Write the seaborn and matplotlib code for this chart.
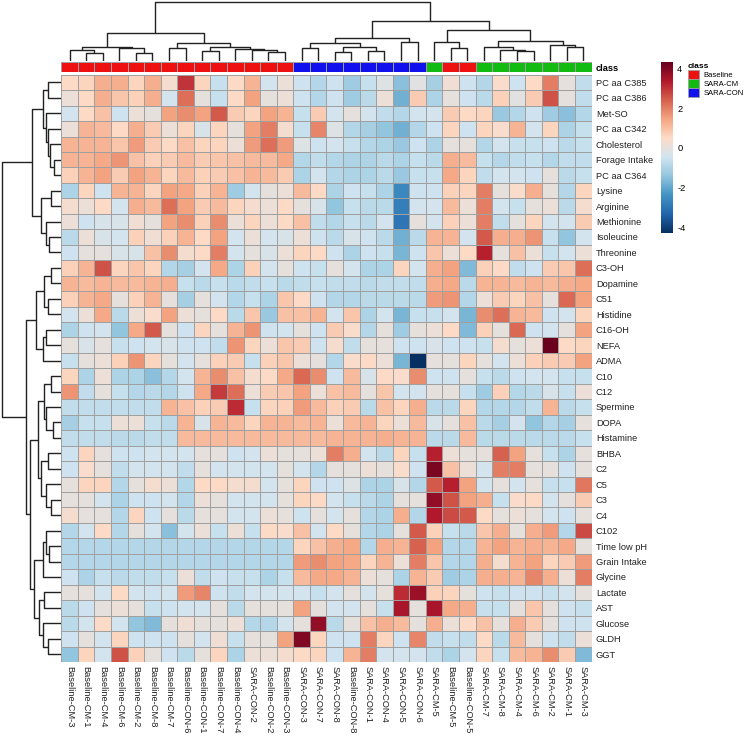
import numpy as np
import pandas as pd
import matplotlib
matplotlib.use('Agg')
import matplotlib.pyplot as plt
import seaborn as sns
from matplotlib.colors import LinearSegmentedColormap
from matplotlib.patches import Patch

metabolites = ['PC aa C385', 'PC aa C386', 'Met-SO', 'PC aa C342', 'Cholesterol',
               'Forage Intake', 'PC aa C364', 'Lysine', 'Arginine', 'Methionine',
               'Isoleucine', 'Threonine', 'C3-OH', 'Dopamine', 'C51', 'Histidine',
               'C16-OH', 'NEFA', 'ADMA', 'C10', 'C12', 'Spermine', 'DOPA', 'Histamine',
               'BHBA', 'C2', 'C5', 'C3', 'C4', 'C102', 'Time low pH', 'Grain Intake',
               'Glycine', 'Lactate', 'AST', 'Glucose', 'GLDH', 'GGT']

samples = ['Baseline-CM-3', 'Baseline-CM-1', 'Baseline-CM-4', 'Baseline-CM-6',
           'Baseline-CM-2', 'Baseline-CM-8', 'Baseline-CM-7', 'Baseline-CON-6',
           'Baseline-CON-1', 'Baseline-CON-7', 'Baseline-CON-4', 'SARA-CON-2',
           'Baseline-CON-2', 'Baseline-CON-3', 'SARA-CON-3', 'SARA-CON-7',
           'SARA-CON-8', 'Baseline-CON-8', 'SARA-CON-1', 'SARA-CON-4', 'SARA-CON-5',
           'SARA-CON-6', 'SARA-CM-5', 'Baseline-CM-5', 'Baseline-CON-5', 'SARA-CM-7',
           'SARA-CM-8', 'SARA-CM-4', 'SARA-CM-6', 'SARA-CM-2', 'SARA-CM-1', 'SARA-CM-3']

sample_class = ['Baseline', 'Baseline', 'Baseline', 'Baseline', 'Baseline', 'Baseline',
                'Baseline', 'Baseline', 'Baseline', 'Baseline', 'Baseline', 'Baseline',
                'Baseline', 'Baseline', 'SARA-CON', 'SARA-CON', 'SARA-CON', 'SARA-CON',
                'SARA-CON', 'SARA-CON', 'SARA-CON', 'SARA-CON', 'SARA-CM', 'Baseline',
                'Baseline', 'SARA-CM', 'SARA-CM', 'SARA-CM', 'SARA-CM', 'SARA-CM',
                'SARA-CM', 'SARA-CM']

class_order = ['Baseline', 'SARA-CM', 'SARA-CON']
class_colors = ['#EE1111', '#11BB11', '#1111EE']

# scaled values, one row per metabolite (columns in sample order)
z_scores = [
    [0.5, 0.6, 1.3, 1.3, 0.6, 1.3, 0.3, 3.0, 0.6, -0.6, 0.5, 1.2, -0.4, 0.1, -0.5, -0.9, -0.5, -1.2, -0.6, -0.2, -1.5, -0.1, -1.1, 0.2, -0.5, -0.9, 0.4, -0.5, 0.5, 2.0, 0.0, -0.7],
    [0.1, 0.5, 1.3, 0.9, 0.7, 1.3, -0.4, 2.2, 0.0, -0.6, 0.5, 1.5, 0.0, 0.1, -0.5, -0.9, -0.5, -1.2, -0.8, 0.1, -1.8, 0.8, -1.0, 0.0, -0.5, -0.8, 0.7, -0.1, 0.8, 2.6, 0.0, -0.7],
    [-0.4, 0.5, 1.0, -0.5, 0.1, 0.0, 1.5, 1.8, 1.5, 2.5, 0.8, 0.6, 1.5, 1.2, -0.6, 0.8, -0.4, 0.0, -0.4, -0.7, -0.9, -0.4, -0.4, 0.8, 0.5, 0.6, -1.3, -0.9, -0.5, -1.2, -1.5, -0.9],
    [0.1, 1.2, 1.1, 0.5, 1.3, 0.8, 0.1, 0.6, -0.3, 0.6, 0.0, 1.5, 2.0, 0.3, -0.6, 1.9, -0.2, -0.9, -1.1, -1.4, -1.8, -0.9, -0.5, 0.6, -0.5, 0.6, 0.4, 1.2, -0.4, 0.6, -1.0, -0.6],
    [1.2, 1.2, 1.2, 0.9, 1.6, 0.8, 0.5, 1.0, 0.6, 0.6, 0.1, 1.6, 2.2, 1.6, -0.2, -0.5, -0.4, -0.6, -0.9, -1.0, -1.3, -0.5, -1.0, 0.0, 0.0, -0.9, -0.4, -0.6, -0.6, -0.5, -0.8, -0.6],
    [1.2, 1.2, 1.4, 1.7, 1.0, 0.7, 0.8, 1.1, 0.8, 0.9, 1.0, 1.1, 1.1, 1.4, -0.9, -0.7, -0.9, -1.0, -1.0, -0.8, -1.0, -0.6, -0.8, 1.3, 1.1, -0.6, -0.9, -0.7, -0.6, -0.9, -0.7, -0.7],
    [0.7, 1.2, 1.5, 0.8, 1.5, 1.2, 0.6, 1.1, 0.7, 0.8, 1.0, 1.2, 1.1, 0.8, -1.0, -0.4, -0.9, -1.0, -1.0, -0.8, -1.3, -0.6, -0.6, 1.4, 0.6, -0.7, -0.4, -0.4, -0.5, 0.0, -0.8, -0.6],
    [-1.0, 0.6, -0.5, 1.2, 1.2, 0.6, 1.5, 1.4, 0.7, 1.2, -1.2, -0.4, 0.0, 0.1, 1.1, 0.5, -1.0, -0.5, -0.6, -1.0, -2.6, -0.5, -0.5, 0.7, 0.6, 2.0, 0.0, 0.4, 1.3, 0.0, -0.9, 0.6],
    [0.3, 0.1, 0.5, -0.4, 1.3, 1.1, 2.2, 1.5, 0.8, 1.1, 0.6, 0.3, 0.1, 0.5, 0.0, -0.3, -1.4, -0.6, -0.8, -0.8, -2.8, -0.4, -0.4, 1.1, 0.1, 2.0, -0.4, -0.6, 0.0, 0.1, -0.8, 0.3],
    [0.1, -0.5, -0.3, -0.3, 0.2, 0.0, 1.5, 1.8, 0.7, 1.8, 0.1, 0.6, 0.1, 0.5, 1.0, -0.7, -0.9, -0.6, -0.8, -0.4, -3.0, 0.0, -0.4, 0.7, 0.1, 2.0, -0.7, 0.0, 0.6, -0.4, -0.4, 0.8],
    [-0.8, 0.1, -0.3, -0.4, 0.7, 0.2, 0.7, 1.2, 0.5, 1.5, -0.4, 0.1, -0.4, -0.3, 0.1, -0.5, -0.8, -0.3, -0.5, -0.8, -1.8, -0.8, 1.2, 1.2, -0.4, 2.5, 1.3, 1.3, 1.7, -0.6, -1.4, -0.4],
    [-0.5, 0.0, 0.0, -0.3, -0.3, 1.0, 1.8, 0.3, 0.5, 2.0, -0.4, 0.0, -0.3, 0.1, 0.6, 0.5, -0.5, -1.0, -0.5, -0.6, -1.7, -0.5, 0.9, 0.1, 0.5, 3.3, 0.0, 1.0, 0.1, -0.6, -0.4, 0.1],
    [0.7, 1.2, 2.6, 0.6, 0.9, 0.6, -0.9, -1.1, -0.4, 1.4, -1.0, 0.7, -0.4, 0.0, -0.5, -0.6, 0.0, -0.4, -1.0, -1.0, 0.6, -0.4, 1.3, 1.5, -1.6, 0.7, 0.5, -0.7, -0.5, 0.8, 0.9, 2.2],
    [1.2, 1.1, 1.2, 1.1, 1.1, 1.2, 1.3, -0.6, -0.8, -0.6, -0.8, -0.7, -0.6, -0.8, -0.7, -0.6, -0.7, -0.7, -0.8, -0.7, -0.7, -0.7, 1.3, 1.4, -0.8, 1.2, 1.2, 1.1, 1.2, 1.1, 1.3, 1.4],
    [0.7, 1.2, 1.4, 0.0, 0.7, 1.2, 0.0, -1.1, 0.0, -0.4, -0.9, -0.6, -1.0, 0.9, 0.5, -0.5, -0.9, -0.9, -0.8, -0.8, -0.8, -0.8, 1.6, 1.7, -0.9, 0.1, 0.8, 0.6, 1.0, 0.0, 2.3, 1.5],
    [-0.4, 0.1, 1.4, -0.8, 0.1, 0.4, 1.5, 0.1, 0.0, 0.5, -0.8, 0.9, -1.3, 1.0, 1.0, 1.2, -0.4, 0.9, -1.0, -0.4, -1.7, -0.6, -0.6, -0.4, -1.7, 1.8, 2.2, 1.2, 1.1, -0.5, -0.4, 0.6],
    [-1.0, -0.5, -0.4, -1.4, 1.4, 2.5, 0.0, -0.5, 0.6, 0.0, 1.2, 1.7, -0.5, -0.4, 0.0, -0.5, 0.8, 0.4, -0.9, 0.0, -1.2, 0.0, 0.1, 0.5, -1.6, 0.7, 0.0, 2.3, -0.5, -0.4, 0.0, 1.5],
    [0.0, -0.3, 0.0, -0.6, -0.5, -0.4, -0.3, -0.5, -0.5, -0.7, 1.7, 0.6, 0.1, 0.9, 0.8, -0.5, 0.3, -0.7, 0.0, 0.0, -0.5, -0.5, -0.3, -0.5, -0.5, -0.6, 0.3, 0.0, 0.1, 4.3, 0.5, 0.6],
    [-0.6, 0.0, 0.1, 0.7, 1.7, 0.6, 0.0, -0.4, 0.0, 0.7, 0.8, -0.6, 0.7, 0.9, 0.1, 0.0, -0.9, 0.4, 0.5, 0.1, -1.7, -4.3, 0.0, 0.0, 0.6, 0.0, -0.4, 0.1, 0.7, 0.8, 0.8, 1.5],
    [0.6, -1.0, 0.1, -1.0, -1.0, -1.5, -0.9, -0.4, 1.2, 1.8, 1.0, 0.3, 0.5, 1.4, 2.3, 1.8, -0.5, 1.1, -0.3, 0.5, 0.4, 1.8, -0.5, -0.5, 0.0, -0.6, -0.8, -0.5, -0.4, -0.4, -0.6, -0.6],
    [1.7, -0.7, 0.0, -0.6, -0.9, -0.8, -0.9, -0.5, 1.4, 2.9, 2.2, 0.1, 0.8, 0.9, 1.5, 0.1, 1.0, 1.1, 0.0, 0.9, -0.4, -0.4, 0.0, 0.0, -0.6, -1.2, 0.7, -0.9, -0.8, -0.3, -0.6, 0.1],
    [-0.7, -0.7, -0.7, -0.7, -0.7, -0.7, 1.2, 1.0, 0.7, 0.8, 3.1, -0.6, 0.6, 0.7, 1.6, 1.1, 0.7, 0.8, -0.8, 1.0, 0.6, 1.3, -0.8, -0.8, 0.6, -0.9, -0.9, -0.9, -0.7, 1.2, -0.8, -0.6],
    [-1.1, -0.6, -0.6, 0.1, 0.1, -0.6, -0.8, 1.2, -0.3, 1.2, 1.1, 0.6, 1.2, 1.2, 1.1, 1.2, 0.1, 1.1, 1.2, 0.6, 0.1, 1.1, -0.3, 0.0, 1.0, -0.8, -1.1, -0.4, -1.4, -0.9, -1.1, 0.0],
    [-0.7, -0.7, -0.7, -0.8, -0.8, -0.7, -0.7, 1.1, 1.1, 1.1, 1.1, 1.1, 1.1, 1.1, 1.1, 1.1, 1.2, 1.2, 1.2, 1.3, 1.2, 1.2, -0.8, -0.8, 1.1, -0.8, -0.8, -0.8, -0.8, -0.8, -0.8, -0.6],
    [-0.5, 0.6, 0.0, -0.5, -0.5, -0.4, -0.4, -0.4, 0.0, 0.0, -0.5, -0.4, 0.1, 0.0, 0.0, 0.1, 2.0, 1.3, -0.4, -0.8, 0.6, -0.6, 3.3, 0.1, 0.0, 0.0, 2.4, 1.5, 0.0, -0.6, -1.0, 0.0],
    [-0.5, 0.4, 0.0, -0.7, -0.4, -0.4, -0.4, -0.7, 0.0, -0.4, -0.4, -0.4, -0.4, 0.0, -0.4, -0.9, 0.0, 0.0, 0.1, 0.0, 0.4, -0.5, 4.1, 1.0, 0.1, -0.4, 2.0, 2.0, 0.0, 0.0, -0.5, 0.0],
    [0.0, 0.6, 0.6, -0.9, 0.0, 0.3, 0.1, -0.9, 0.5, 0.5, 0.3, 0.3, -0.4, 0.0, 0.6, -0.5, -0.5, -0.2, -1.0, -1.0, -0.3, -0.9, 2.5, 3.3, 1.5, -0.4, 0.0, -0.4, 0.0, -0.6, -0.6, 2.1],
    [0.0, 0.0, -0.4, -1.0, -0.5, -0.5, -0.4, -0.9, 0.1, 0.0, -0.4, -0.4, -0.4, 0.0, 0.6, 0.5, -0.4, -0.6, -0.8, -1.0, 0.0, 0.0, 3.8, 2.6, 1.5, 1.3, -0.6, 0.4, 0.5, -0.4, 0.0, 0.8],
    [0.3, 0.0, 0.0, -0.9, 0.6, -0.5, 0.0, -0.8, 0.0, 0.0, -0.4, -0.4, 0.1, 0.0, -0.5, 0.0, -0.4, 0.0, -0.9, -1.0, 1.3, -0.9, 3.4, 2.7, 2.5, 0.5, 0.0, 0.1, 0.0, -0.4, -0.5, 0.0],
    [-0.9, -0.4, 0.5, -0.9, 0.0, -0.4, -1.5, -0.4, 0.1, -0.6, 0.1, -0.6, 0.5, 0.4, 1.0, -0.4, 0.5, 0.0, -0.9, -1.0, 0.0, 2.5, 0.7, -0.6, -0.8, 0.9, 1.3, 0.0, 1.3, 1.6, -0.9, 2.7],
    [-0.9, -0.9, -0.9, -0.9, -0.9, -0.9, -0.9, -0.9, -0.9, -0.9, -0.9, -0.9, -0.9, -0.9, 0.6, 1.0, 1.3, 1.4, -0.9, 1.3, 1.2, 2.4, 1.5, -0.9, -0.9, 1.2, 1.5, 1.2, 1.3, 1.2, 1.4, 0.0],
    [-0.9, -0.9, -0.9, -0.9, -0.9, -0.9, -0.9, -0.9, -0.9, -0.9, -0.9, -0.9, -0.9, -0.9, 1.6, 1.8, 1.5, 1.4, 0.6, 1.2, 0.1, 2.0, 0.9, -0.9, -0.9, 1.3, 0.3, 1.2, 1.5, 0.6, 0.8, 1.6],
    [-0.5, -1.0, -0.6, -0.8, -0.7, -0.7, -0.6, 0.1, -0.7, -0.5, -0.6, -0.6, -1.0, -0.6, 1.1, 1.4, 1.4, 1.2, 0.1, 0.0, -1.0, 1.2, 0.8, -1.2, -1.0, 1.3, 1.3, 1.2, 1.9, 1.3, 0.1, 2.0],
    [0.0, 0.0, -0.4, 0.5, -0.4, -0.5, -0.4, 1.6, 1.9, -0.5, -0.7, -0.4, -0.4, -0.4, -0.4, -0.6, -0.4, 0.0, -0.4, 0.0, 3.1, 3.7, 0.7, 0.6, 0.0, -0.5, -0.6, -0.5, -0.5, -0.6, -0.4, 0.0],
    [-0.8, -0.5, 0.0, 0.1, 0.0, -0.6, -0.5, -0.4, -0.4, 0.0, -0.8, 0.0, 0.0, 0.0, 1.5, 0.0, -0.4, -0.4, 0.0, -0.6, 3.5, 0.0, 3.5, 1.4, 1.3, -0.6, -0.6, 0.0, 0.9, 0.0, -0.5, -0.6],
    [-0.8, -0.4, 0.5, -0.4, -1.4, -1.6, 0.0, 0.2, 0.0, 0.0, 0.1, -0.9, -0.9, -0.4, 0.0, 3.8, -0.8, 0.0, 1.0, 1.3, 1.1, 0.0, 1.3, 0.1, 0.5, 1.0, 0.0, 1.3, 0.8, 0.0, -0.5, -0.5],
    [-0.5, 0.0, -0.4, 0.6, -0.5, -0.5, -0.5, 0.0, -0.4, 0.2, -0.6, 0.0, 0.0, 1.5, 4.0, 0.6, -0.5, -0.5, 2.0, 0.6, -0.5, 1.9, -0.7, -0.6, -0.7, 0.5, -0.8, 1.1, 0.0, -0.5, -0.7, 0.1],
    [-1.4, 0.6, -0.4, 2.6, 0.7, 0.0, -0.5, -0.8, 0.0, 0.6, -1.0, 0.1, 0.1, 0.3, 0.5, 0.6, -0.5, 1.2, 2.0, -0.4, -0.4, -0.4, -0.7, -1.0, -0.4, 0.6, -0.6, 1.1, 1.2, 1.8, 0.8, -1.6],
]

# dendrograms: (merge height, left, right), leaves = display index
col_tree = (181,
            (86,
             (43, (34, 0, (23, 1, 2)), (39, 3, (23, 4, 5))),
             (56, (40, 6, 7), (42, (30, 8, 9), (38, 10, (34, 11, (28, 12, 13)))))),
            (123,
             (70, (56, (40, 14, 15), (44, (26, 16, 17), (29, 18, 19))), (57, 20, 21)),
             (94, (58, 22, (41, 23, 24)),
              (62, (44, 25, (33, 26, (31, 27, 28))), (49, 29, (44, 30, 31))))))

row_tree = (178,
            (88,
             (55, (40, 0, 1), (45, 2, (38, 3, (32, 4, (22, 5, 6))))),
             (60, (30, 7, 8), (45, 9, (35, 10, 11)))),
            (106,
             (75, (50, (30, 12, 13), (40, 14, 15)), (55, (45, 16, 17), 18)),
             (92,
              (70, (50, (30, 19, 20), (45, 21, (25, 22, 23))),
               (60, (40, 24, 25), (45, 26, (30, 27, 28)))),
              (80, (55, (45, 29, (35, 30, 31)), 32),
               (65, (50, 33, 34), (55, 35, (40, 36, 37)))))))


def to_linkage(tree, n):
    rows = []

    def walk(node):
        if isinstance(node, int):
            return node, 1
        h, left, right = node
        a, ca = walk(left)
        b, cb = walk(right)
        rows.append([a, b, h, ca + cb])
        return n + len(rows) - 1, ca + cb

    walk(tree)
    return np.array(rows, dtype=float)


df = pd.DataFrame(z_scores, index=metabolites, columns=samples)
palette = dict(zip(class_order, class_colors))
col_colors = pd.Series(sample_class, index=samples, name='class').map(palette)

cmap = LinearSegmentedColormap.from_list(
    'rdbu', ['#053061', '#2166AC', '#4393C3', '#92C5DE', '#D1E5F0',
             '#FDDBC7', '#F4A582', '#D6604D', '#B2182B', '#67001F'])

plt.rcParams['font.family'] = ['Liberation Sans', 'DejaVu Sans']
plt.rcParams['axes.unicode_minus'] = False
fs = 6.7

g = sns.clustermap(df, row_linkage=to_linkage(row_tree, len(metabolites)),
                   col_linkage=to_linkage(col_tree, len(samples)),
                   col_colors=col_colors, cmap=cmap, vmin=-4.3, vmax=4.35,
                   linewidths=0.6, linecolor='#a0a0a0', figsize=(7.47, 7.36),
                   xticklabels=True, yticklabels=True,
                   tree_kws={'linewidths': 1.0, 'colors': '#222222'},
                   cbar_kws={'ticks': [-4, -2, 0, 2, 4]})

W, H = 747.0, 736.0
g.ax_heatmap.set_position([61.3 / W, 1 - 662 / H, 530.3 / W, 587.3 / H])
g.ax_col_colors.set_position([61.3 / W, 1 - 72.3 / H, 530.3 / W, 10 / H])
g.ax_col_dendrogram.set_position([61.3 / W, 1 - 61 / H, 530.3 / W, 62.3 / H])
g.ax_row_dendrogram.set_position([-1.3 / W, 1 - 662 / H, 62.3 / W, 587.3 / H])
g.ax_cbar.set_position([661 / W, 1 - 233 / H, 12 / W, 171 / H])

ax = g.ax_heatmap
ax.set_xlabel('')
ax.set_ylabel('')
ax.tick_params(axis='both', length=0, pad=3, labelsize=fs, colors='#222222')
plt.setp(ax.get_xticklabels(), rotation=270, va='top', ha='center')
plt.setp(ax.get_yticklabels(), rotation=0)

g.ax_col_colors.tick_params(axis='y', length=0, pad=3, labelsize=fs)
plt.setp(g.ax_col_colors.get_yticklabels(), fontweight='bold')

g.ax_cbar.tick_params(length=0, pad=3, labelsize=fs)
ax.collections[0].colorbar.outline.set_visible(False)

handles = [Patch(facecolor=c, edgecolor='#a0a0a0', linewidth=0.6, label=k)
           for k, c in zip(class_order, class_colors)]
leg = g.fig.legend(handles=handles, title='class', loc='upper left',
                   bbox_to_anchor=(688 / W, 1 - 63 / H), frameon=False,
                   fontsize=5.5, title_fontproperties={'weight': 'bold', 'size': 6.0},
                   handlelength=1.45, handleheight=1.45, handletextpad=0.55,
                   labelspacing=0.0, borderaxespad=0, borderpad=0)
leg._legend_box.align = 'left'

g.fig.savefig('out.png', dpi=100)
